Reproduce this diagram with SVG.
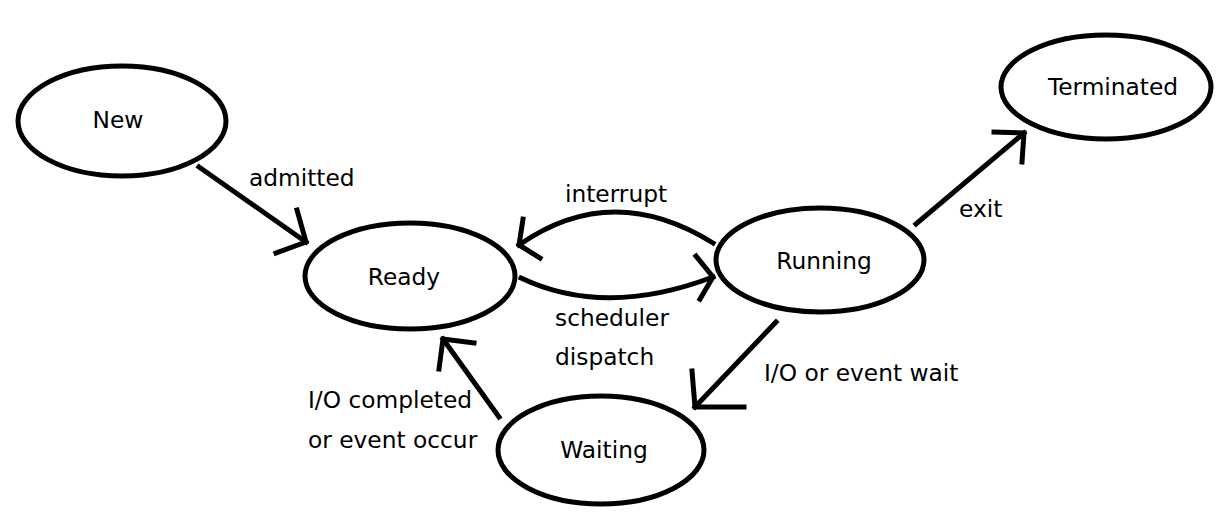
<svg xmlns="http://www.w3.org/2000/svg" width="1223" height="522" viewBox="0 0 1223 522">
<style>
.n{fill:#fff;stroke:#000;stroke-width:5}
.c{fill:none;stroke:#000;stroke-width:5;stroke-linecap:square;stroke-linejoin:miter}
text{font-family:"DejaVu Sans","Liberation Sans",sans-serif;font-size:23.3px;fill:#000}
.m{text-anchor:middle}
</style>
<rect width="1223" height="522" fill="#fff"/>
<g id="connectors">
<g id="admitted">
<path class="c" d="M199,167 L306,242"/>
<path class="c" d="M297,210 L306,242 L276,253"/>
</g>
<g id="interrupt">
<path class="c" d="M713,243 Q612,180 519,245"/>
<path class="c" d="M523,219 L519,245 L540,258"/>
</g>
<g id="dispatch">
<path class="c" d="M521,278 Q605,318 713,277"/>
<path class="c" d="M696,256 L713,277 L700,299"/>
</g>
<g id="wait">
<path class="c" d="M776,322 L695,407"/>
<path class="c" d="M692,371 L695,407 L744,407"/>
</g>
<g id="completed">
<path class="c" d="M499,417 L443,339"/>
<path class="c" d="M439,369 L443,339 L474,343"/>
</g>
<g id="exit">
<path class="c" d="M916,224 L1024,133"/>
<path class="c" d="M994,132 L1024,133 L1022,162"/>
</g>
<text x="249" y="186">admitted</text>
<text x="565" y="202">interrupt</text>
<text x="555" y="326">scheduler</text>
<text x="555" y="365">dispatch</text>
<text x="764" y="381">I/O or event wait</text>
<text x="308" y="408">I/O completed</text>
<text x="308" y="448">or event occur</text>
<text x="959" y="217">exit</text>
</g>
<g id="new">
<ellipse class="n" cx="122" cy="121" rx="104" ry="55"/>
<text class="m" x="118" y="128">New</text>
</g>
<g id="ready">
<ellipse class="n" cx="410" cy="276" rx="105" ry="53"/>
<text class="m" x="404" y="285">Ready</text>
</g>
<g id="running">
<ellipse class="n" cx="820" cy="260" rx="104" ry="52"/>
<text class="m" x="824" y="269">Running</text>
</g>
<g id="terminated">
<ellipse class="n" cx="1106" cy="87" rx="105" ry="52"/>
<text class="m" x="1113" y="95">Terminated</text>
</g>
<g id="waiting">
<ellipse class="n" cx="601" cy="450" rx="103" ry="54"/>
<text class="m" x="604" y="458">Waiting</text>
</g>
</svg>
